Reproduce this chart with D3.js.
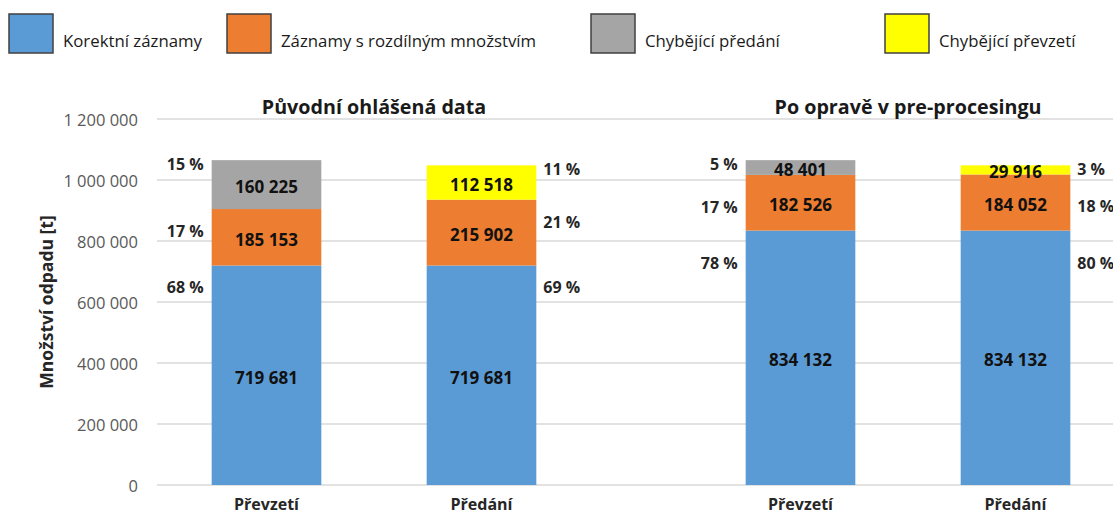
<!DOCTYPE html>
<html>
<head>
<meta charset="utf-8">
<script src="https://cdn.jsdelivr.net/npm/d3@7"></script>
<style>
  body { margin: 0; background: #fff; overflow: hidden; }
  svg { font-family: "Open Sans", sans-serif; display: block; }
</style>
</head>
<body>
<svg id="chart" width="1113" height="515"></svg>
<script>
// data
const groups = ["Původní ohlášená data", "Po opravě v pre-procesingu"];
const categories = ["Převzetí", "Předání"];
const seriesNames = ["Korektní záznamy", "Záznamy s rozdílným množstvím", "Chybějící předání", "Chybějící převzetí"];
const colors = ["#5b9bd5", "#ed7d31", "#a5a5a5", "#ffff00"];

// one value per bar: [orig převzetí, orig předání, opr převzetí, opr předání]
const correct = [719681, 719681, 834132, 834132];
const diffQty = [185153, 215902, 182526, 184052];
const missHand = [160225, 0, 48401, 0];
const missTake = [0, 112518, 0, 29916];

const correctPct = ["68 %", "69 %", "78 %", "80 %"];
const diffPct = ["17 %", "21 %", "17 %", "18 %"];
const missPct = ["15 %", "11 %", "5 %", "3 %"];

const yTicks = [0, 200000, 400000, 600000, 800000, 1000000, 1200000];
const yTitle = "Množství odpadu [t]";

// build bars
const bars = correct.map((c, i) => ({
    group: groups[Math.floor(i / 2)],
    gi: Math.floor(i / 2),
    cat: categories[i % 2],
    side: i % 2 === 0 ? "left" : "right",
    values: [c, diffQty[i], missHand[i], missTake[i]],
    pct: [correctPct[i], diffPct[i], missPct[i]]
}));

const svg = d3.select("#chart");
const fmt = d3.formatLocale({decimal: ",", thousands: " ", grouping: [3], currency: ["", ""]}).format(",d");

const y = d3.scaleLinear().domain([0, 1200000]).range([485, 119]);
const x0 = d3.scaleBand().domain(groups).range([107, 1175]);
const x1 = d3.scaleBand().domain(categories).range([52, 482]).paddingInner(0.49).paddingOuter(0.245);

// gridlines + tick labels
svg.append("g").selectAll("line").data(yTicks).enter().append("line")
    .attr("x1", 157).attr("x2", 1113)
    .attr("y1", d => y(d)).attr("y2", d => y(d))
    .attr("stroke", "#d9d9d9").attr("stroke-width", 1.3);

svg.append("g").selectAll("text").data(yTicks).enter().append("text")
    .attr("x", 138).attr("y", d => y(d))
    .attr("text-anchor", "end").attr("dominant-baseline", "central")
    .attr("font-size", 16.5).attr("fill", "#595959")
    .text(d => fmt(d));

svg.append("text")
    .attr("transform", `translate(46,${y(600000)}) rotate(-90)`)
    .attr("text-anchor", "middle").attr("dominant-baseline", "central")
    .attr("font-size", 17.5).attr("font-weight", "bold").attr("fill", "#262626")
    .text(yTitle);

// group titles
svg.append("g").selectAll("text").data(groups).enter().append("text")
    .attr("x", d => x0(d) + x0.bandwidth() / 2).attr("y", 106)
    .attr("text-anchor", "middle").attr("dominant-baseline", "central")
    .attr("font-size", 19.7).attr("font-weight", "bold").attr("fill", "#1a1a1a")
    .text(d => d);

// percent label offset below segment top, per group
const pctDy = [22, 32];

const bar = svg.append("g").selectAll("g.bar").data(bars).enter().append("g")
    .classed("bar", true)
    .attr("transform", d => `translate(${x0(d.group) + x1(d.cat)},0)`);

bar.each(function(d) {
    const g = d3.select(this);
    const w = x1.bandwidth();
    let acc = 0;
    const segs = d.values.map((v, k) => {
        const s = {k, v, y0: acc, y1: acc + v};
        acc += v;
        return s;
    }).filter(s => s.v > 0);

    g.selectAll("rect").data(segs).enter().append("rect")
        .attr("x", 0).attr("width", w)
        .attr("y", s => y(s.y1)).attr("height", s => y(s.y0) - y(s.y1))
        .attr("fill", s => colors[s.k]);

    g.selectAll("text.val").data(segs).enter().append("text")
        .classed("val", true)
        .attr("x", w / 2).attr("y", s => (y(s.y0) + y(s.y1)) / 2 + 2)
        .attr("text-anchor", "middle").attr("dominant-baseline", "central")
        .attr("font-size", 17).attr("font-weight", "bold").attr("fill", "#111")
        .text(s => fmt(s.v));

    // percent labels beside the bar
    g.selectAll("text.pct").data(segs).enter().append("text")
        .classed("pct", true)
        .attr("x", d.side === "left" ? -8 : w + 7)
        .attr("y", (s, i) => i === segs.length - 1 ? y(s.y1) + 4 : y(s.y1) + pctDy[d.gi])
        .attr("text-anchor", d.side === "left" ? "end" : "start")
        .attr("dominant-baseline", "central")
        .attr("font-size", 16).attr("font-weight", "bold").attr("fill", "#262626")
        .text(s => d.pct[Math.min(s.k, 2)]);

    g.append("text")
        .attr("x", w / 2).attr("y", 504)
        .attr("text-anchor", "middle").attr("dominant-baseline", "central")
        .attr("font-size", 16).attr("font-weight", "bold").attr("fill", "#262626")
        .text(d.cat);
});

// legend
const legendX = [9, 227, 591, 885];
const leg = svg.append("g").selectAll("g").data(seriesNames).enter().append("g")
    .attr("transform", (d, i) => `translate(${legendX[i]},14)`);
leg.append("rect")
    .attr("width", 44).attr("height", 39)
    .attr("fill", (d, i) => colors[i]).attr("stroke", "#404040").attr("stroke-width", 1.5);
leg.append("text")
    .attr("x", 54).attr("y", 26)
    .attr("dominant-baseline", "central")
    .attr("font-size", 16.8).attr("fill", "#1a1a1a")
    .text(d => d);
</script>
</body>
</html>
